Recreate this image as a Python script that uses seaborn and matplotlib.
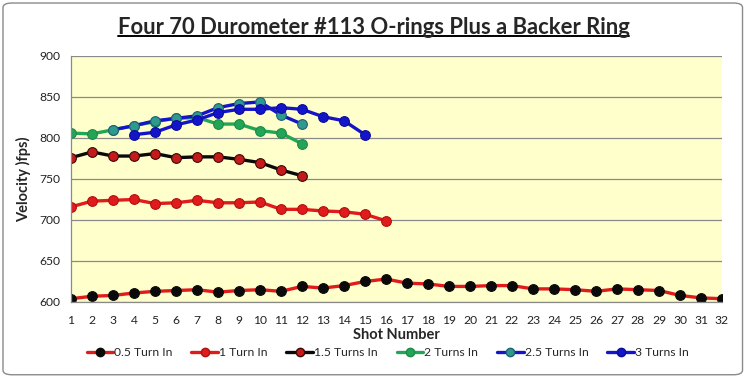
import seaborn as sns
import matplotlib.pyplot as plt
from matplotlib.patches import FancyBboxPatch
from matplotlib.lines import Line2D

# data
shots_05 = list(range(1, 33))
vel_05 = [604, 607, 608, 611, 613, 614, 615, 612, 614, 615, 613, 619, 617, 620, 625, 628,
          623, 622, 619, 619, 620, 620, 616, 616, 615, 613, 616, 615, 614, 608, 605, 604]

shots_1 = list(range(1, 17))
vel_1 = [716, 723, 724, 725, 720, 721, 724, 721, 721, 722, 713, 713, 711, 710, 707, 699]

shots_15 = list(range(1, 13))
vel_15 = [776, 783, 778, 778, 781, 776, 777, 777, 774, 770, 761, 754]

shots_2 = list(range(1, 13))
vel_2 = [806, 805, 810, 815, 820, 824, 825, 817, 817, 809, 806, 793]

shots_25 = list(range(3, 13))
vel_25 = [810, 815, 821, 824, 827, 837, 842, 844, 828, 817]

shots_3 = list(range(4, 16))
vel_3 = [804, 807, 816, 822, 831, 835, 835, 837, 835, 826, 821, 804]

labels = ['0.5 Turn In', '1 Turn In', '1.5 Turns In', '2 Turns In', '2.5 Turns In', '3 Turns In']

RED = '#E01B1B'
BLACK = '#0a0a0a'
GREEN = '#22A556'
TEAL = '#2E9A8E'
BLUE = '#1414C8'

styles = [
    dict(color=RED, mfc=BLACK, mec=BLACK),
    dict(color=RED, mfc=RED, mec='#B01010'),
    dict(color=BLACK, mfc='#C41A1A', mec='#3a0a0a'),
    dict(color=GREEN, mfc=GREEN, mec='#1C8A48'),
    dict(color=BLUE, mfc=TEAL, mec='#1F5F7A'),
    dict(color=BLUE, mfc=BLUE, mec='#0C0C9A'),
]
series = [(shots_05, vel_05), (shots_1, vel_1), (shots_15, vel_15),
          (shots_2, vel_2), (shots_25, vel_25), (shots_3, vel_3)]

sns.set_style('white')
plt.rcParams['font.family'] = ['Lato', 'DejaVu Sans']

fig = plt.figure(figsize=(7.47, 3.77), dpi=100)
ax = fig.add_axes([71 / 747, 1 - 302 / 377, (722 - 71) / 747, (302 - 56) / 377])
ax.set_facecolor('#FFFFCC')

for (x, y), lab, st in zip(series, labels, styles):
    sns.lineplot(x=x, y=y, ax=ax, color=st['color'], linewidth=2.4, marker='o',
                 markersize=7, markerfacecolor=st['mfc'], markeredgecolor=st['mec'],
                 markeredgewidth=0.8, label=lab, legend=False)

ax.set_xlim(1, 32)
ax.set_ylim(600, 900)
ax.set_xticks(range(1, 33))
ax.set_yticks(range(600, 901, 50))
ax.tick_params(axis='both', labelsize=8.7, colors='#222222', length=4, width=0.8,
               direction='out', color='#808080')
ax.tick_params(axis='x', pad=5)
ax.grid(axis='y', color='#8a8a8a', linewidth=0.9)
ax.set_axisbelow(True)
for side in ['top', 'right']:
    ax.spines[side].set_visible(False)
for side in ['left', 'bottom']:
    ax.spines[side].set_color('#8a8a8a')
    ax.spines[side].set_linewidth(0.9)

ax.set_xlabel('Shot Number', fontsize=10.5, fontweight='bold', labelpad=2)
ax.set_ylabel('Velocity )fps)', fontsize=10.5, fontweight='bold', labelpad=6)

handles = [Line2D([0], [0], color=st['color'], linewidth=2.4, marker='o', markersize=6,
                  markerfacecolor=st['mfc'], markeredgecolor=st['mec'])
           for st in styles]
fig.legend(handles, labels, loc='center', bbox_to_anchor=(0.519, 1 - 353 / 377), ncol=6,
           frameon=False, fontsize=8.7, handlelength=2.2, handletextpad=0.1,
           columnspacing=1.55)

title = fig.text(0.5, 1 - 27 / 377, 'Four 70 Durometer #113 O-rings Plus a Backer Ring',
                 ha='center', va='center', fontsize=15.8, fontweight='bold')

# underline under the title
fig.canvas.draw()
bb = title.get_window_extent().transformed(fig.transFigure.inverted())
fig.add_artist(Line2D([bb.x0, bb.x1], [bb.y0 + 0.004, bb.y0 + 0.004], color='black',
                      linewidth=1.4, transform=fig.transFigure))

# outer chart border
fig.add_artist(FancyBboxPatch((0.004, 0.006), 0.99, 0.986,
                              boxstyle='round,pad=0,rounding_size=0.012',
                              transform=fig.transFigure, facecolor='none',
                              edgecolor='#8a8a8a', linewidth=1.0))

fig.savefig('out.png', dpi=100)
